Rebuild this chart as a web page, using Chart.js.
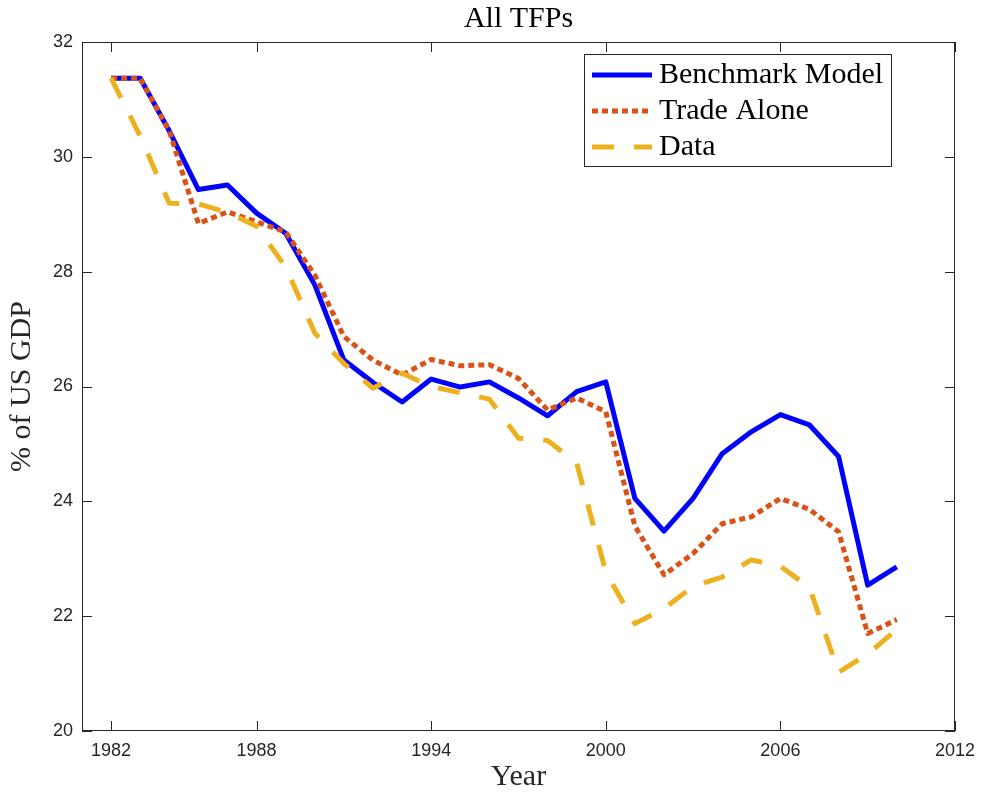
<!DOCTYPE html>
<html>
<head>
<meta charset="utf-8">
<script src="https://cdn.jsdelivr.net/npm/chart.js@4.4.1/dist/chart.umd.min.js"></script>
<style>
  html, body { margin: 0; padding: 0; background: #fff; }
</style>
</head>
<body>
<canvas id="graficoTFP" width="984" height="800"></canvas>
<script>
// años de los datos (el primer punto cae en la marca rotulada "1982")
const years = [1983, 1984, 1985, 1986, 1987, 1988, 1989, 1990, 1991, 1992,
               1993, 1994, 1995, 1996, 1997, 1998, 1999, 2000, 2001, 2002,
               2003, 2004, 2005, 2006, 2007, 2008, 2009, 2010];

const benchmarkModel = [31.37, 31.37, 30.45, 29.43, 29.51, 29.02, 28.67, 27.77, 26.46, 26.07,
                        25.73, 26.13, 25.99, 26.08, 25.80, 25.49, 25.91, 26.08, 24.05, 23.48,
                        24.05, 24.83, 25.21, 25.51, 25.33, 24.78, 22.54, 22.86];

const tradeAlone = [31.37, 31.37, 30.45, 28.84, 29.04, 28.87, 28.69, 27.94, 26.87, 26.46,
                    26.20, 26.47, 26.36, 26.38, 26.14, 25.59, 25.80, 25.56, 23.57, 22.72,
                    23.09, 23.61, 23.73, 24.05, 23.86, 23.47, 21.70, 21.94];

const dataTFP = [31.37, 30.36, 29.19, 29.18, 29.03, 28.79, 28.08, 26.93, 26.40, 25.97,
                 26.23, 26.00, 25.89, 25.78, 25.10, 25.06, 24.67, 22.77, 21.87, 22.13,
                 22.52, 22.68, 22.98, 22.87, 22.50, 21.02, 21.34, 21.77];

const xTickValues = [1983, 1988, 1994, 2000, 2006, 2012];
const xTickLabels = ['1982', '1988', '1994', '2000', '2006', '2012'];
const yTicks = [20, 22, 24, 26, 28, 30, 32];

const colorEje = '#262626';
const fuenteSerif = "'Liberation Serif', 'Times New Roman', serif";
const fuenteSans = "'Liberation Sans', Arial, Helvetica, sans-serif";

function puntos(valores) {
    return years.map((a, i) => ({ x: a, y: valores[i] }));
}

// caja de ejes estilo MATLAB, marcas hacia dentro y leyenda con marco
const marcoEjes = {
    id: 'marcoEjes',
    afterDraw(chart) {
        const { ctx, chartArea: a, scales: { x, y } } = chart;
        ctx.save();
        ctx.strokeStyle = colorEje;
        ctx.lineWidth = 1;
        ctx.strokeRect(a.left + 0.5, a.top + 0.5, a.right - a.left - 1, a.bottom - a.top - 1);

        const largo = 10;
        ctx.beginPath();
        xTickValues.forEach(v => {
            const px = Math.round(x.getPixelForValue(v)) + 0.5;
            ctx.moveTo(px, a.bottom);
            ctx.lineTo(px, a.bottom - largo);
            ctx.moveTo(px, a.top);
            ctx.lineTo(px, a.top + largo);
        });
        yTicks.forEach(v => {
            const py = Math.round(y.getPixelForValue(v)) + 0.5;
            ctx.moveTo(a.left, py);
            ctx.lineTo(a.left + largo, py);
            ctx.moveTo(a.right, py);
            ctx.lineTo(a.right - largo, py);
        });
        ctx.stroke();

        // leyenda
        const cajaX = 584, cajaY = 54, cajaW = 307, cajaH = 112;
        ctx.fillStyle = '#fff';
        ctx.fillRect(cajaX, cajaY, cajaW, cajaH);
        ctx.strokeRect(cajaX + 0.5, cajaY + 0.5, cajaW, cajaH);

        chart.data.datasets.forEach((ds, i) => {
            const fy = 75 + i * 36;
            ctx.beginPath();
            ctx.strokeStyle = ds.borderColor;
            ctx.lineWidth = ds.borderWidth;
            ctx.lineCap = 'butt';
            ctx.setLineDash(ds.borderDash || []);
            ctx.moveTo(592, fy);
            ctx.lineTo(652, fy);
            ctx.stroke();
            ctx.setLineDash([]);
            ctx.fillStyle = '#000';
            ctx.font = '30px ' + fuenteSerif;
            ctx.textAlign = 'left';
            ctx.textBaseline = 'middle';
            ctx.fillText(ds.label, 659, fy);
        });
        ctx.restore();
    }
};

const ctx = document.getElementById('graficoTFP').getContext('2d');
const grafico = new Chart(ctx, {
    type: 'line',
    data: {
        datasets: [{
            label: 'Benchmark Model',
            data: puntos(benchmarkModel),
            borderColor: '#0000FF',
            borderWidth: 5,
            borderJoinStyle: 'round',
            order: 2
        }, {
            label: 'Trade Alone',
            data: puntos(tradeAlone),
            borderColor: '#D95319',
            borderWidth: 5,
            borderDash: [6, 4],
            borderJoinStyle: 'round',
            order: 1
        }, {
            label: 'Data',
            data: puntos(dataTFP),
            borderColor: '#EDB120',
            borderWidth: 5,
            borderDash: [22, 20],
            borderJoinStyle: 'round',
            order: 0
        }]
    },
    options: {
        responsive: false,
        animation: false,
        devicePixelRatio: 1,
        elements: {
            point: { radius: 0 },
            line: { tension: 0 }
        },
        layout: {
            padding: { top: 0, right: 27, bottom: 0, left: 0 }
        },
        plugins: {
            legend: { display: false },
            tooltip: { enabled: false },
            title: {
                display: true,
                text: 'All TFPs',
                fullSize: false,
                color: '#000',
                font: { family: fuenteSerif, size: 30, weight: 'normal', lineHeight: 1.2 },
                padding: { top: 1.5, bottom: 4.5 }
            }
        },
        scales: {
            x: {
                type: 'linear',
                min: 1982,
                max: 2012,
                grid: { display: false, drawTicks: false },
                border: { display: false },
                afterBuildTicks: (scale) => {
                    scale.ticks = xTickValues.map(v => ({ value: v }));
                },
                afterFit: (scale) => { scale.height = 69; },
                ticks: {
                    autoSkip: false,
                    maxRotation: 0,
                    padding: 9,
                    color: colorEje,
                    font: { family: fuenteSans, size: 18 },
                    callback: (v) => xTickLabels[xTickValues.indexOf(v)]
                },
                title: {
                    display: true,
                    text: 'Year',
                    color: colorEje,
                    font: { family: fuenteSerif, size: 30, lineHeight: 1.2 },
                    padding: { top: 0, bottom: 5 }
                }
            },
            y: {
                min: 20,
                max: 32,
                grid: { display: false, drawTicks: false },
                border: { display: false },
                afterFit: (scale) => { scale.width = 82; },
                ticks: {
                    stepSize: 2,
                    padding: 9,
                    color: colorEje,
                    font: { family: fuenteSans, size: 18 }
                },
                title: {
                    display: true,
                    text: '% of US GDP',
                    color: colorEje,
                    font: { family: fuenteSerif, size: 30, lineHeight: 1.2 },
                    padding: { top: 4, bottom: 0 }
                }
            }
        }
    },
    plugins: [marcoEjes]
});
</script>
</body>
</html>
